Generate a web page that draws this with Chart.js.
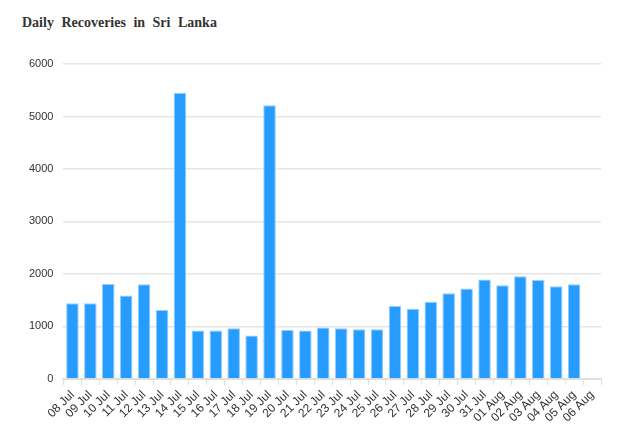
<!DOCTYPE html>
<html lang="en">

<head>
    <meta charset="UTF-8">
    <title>Daily Recoveries in Sri Lanka</title>
    <script src="https://cdn.jsdelivr.net/npm/chart.js"></script>
    <style>
        body {
            margin: 0;
            background: #fff;
        }

        .wrap {
            position: relative;
            width: 620px;
            height: 436px;
        }

        .chart-title {
            position: absolute;
            left: 22px;
            top: 15px;
            font-family: "Liberation Serif", "Times New Roman", serif;
            font-weight: bold;
            font-size: 14px;
            word-spacing: 4px;
            color: #333;
        }

        canvas {
            position: absolute;
            left: 0;
            top: 0;
        }
    </style>
</head>

<body>
    <div class="wrap">
        <div class="chart-title">Daily Recoveries in Sri Lanka</div>
        <canvas id="recoveryChart" width="620" height="436"></canvas>
    </div>

    <script>
        // data
        const days = [
            '08 Jul', '09 Jul', '10 Jul', '11 Jul', '12 Jul', '13 Jul', '14 Jul', '15 Jul',
            '16 Jul', '17 Jul', '18 Jul', '19 Jul', '20 Jul', '21 Jul', '22 Jul', '23 Jul',
            '24 Jul', '25 Jul', '26 Jul', '27 Jul', '28 Jul', '29 Jul', '30 Jul', '31 Jul',
            '01 Aug', '02 Aug', '03 Aug', '04 Aug', '05 Aug', '06 Aug'
        ];
        const recoveries = [
            1440, 1440, 1810, 1590, 1805, 1315, 5448, 922,
            922, 966, 827, 5213, 933, 922, 979, 966,
            945, 945, 1390, 1338, 1472, 1631, 1721, 1893,
            1784, 1956, 1885, 1765, 1803, null
        ];
        const yTicks = [0, 1000, 2000, 3000, 4000, 5000, 6000];

        const ctx = document.getElementById('recoveryChart').getContext('2d');
        const recoveryChart = new Chart(ctx, {
            type: 'bar',
            data: {
                labels: days,
                datasets: [{
                    label: 'Recoveries',
                    data: recoveries,
                    backgroundColor: 'rgba(38,156,255,1)',
                    borderColor: 'rgba(150,205,255,1)',
                    borderWidth: { top: 1, left: 1, right: 1, bottom: 0 },
                    barPercentage: 0.7,
                    categoryPercentage: 1.0,
                }],
            },
            options: {
                responsive: false,
                animation: false,
                layout: {
                    padding: { top: 64, left: 19, right: 19, bottom: 8 }
                },
                plugins: {
                    legend: { display: false },
                    tooltip: { enabled: false }
                },
                scales: {
                    x: {
                        grid: {
                            display: true,
                            drawOnChartArea: false,
                            offset: true,
                            color: '#e0e0e0',
                            tickLength: 6
                        },
                        border: { color: '#e0e0e0', width: 2 },
                        ticks: {
                            minRotation: 45,
                            maxRotation: 45,
                            autoSkip: false,
                            color: '#333',
                            font: { family: 'Liberation Sans, Arial', size: 12 }
                        }
                    },
                    y: {
                        min: 0,
                        max: 6000,
                        afterBuildTicks: axis => {
                            axis.ticks = yTicks.map(v => ({ value: v }));
                        },
                        grid: {
                            color: '#e6e6e6',
                            lineWidth: 1.5,
                            drawTicks: false
                        },
                        border: { display: false },
                        ticks: {
                            padding: 10,
                            color: '#333',
                            font: { family: 'Liberation Sans, Arial', size: 11 },
                            callback: value => String(value)
                        }
                    }
                }
            },
        });
    </script>
</body>

</html>
